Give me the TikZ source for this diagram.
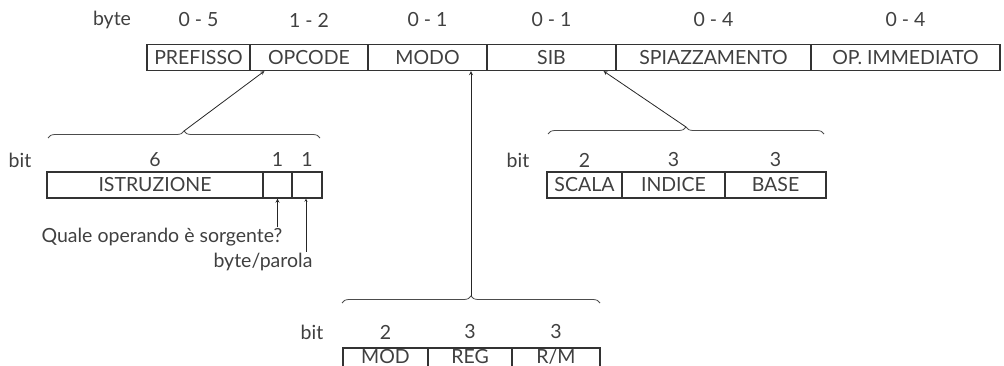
\documentclass[tikz,border=0pt]{standalone}
\usepackage{fontspec}
\setmainfont{Lato}
\usetikzlibrary{decorations.pathreplacing}
\newcommand{\fieldup}[1]{\raisebox{3pt}{#1}}
\begin{document}
\begin{tikzpicture}[x=1pt, y=-1pt, font=\fontsize{19.5}{22}\selectfont]
\tikzstyle{field} = [rectangle, minimum height=26pt, inner sep=0pt, text centered, draw=black!80, line width=1.2pt, text=black!75]
\tikzstyle{lowfield} = [field, minimum height=20pt]
\tikzstyle{lbl} = [inner sep=1pt, text=black!75]
\tikzstyle{brace} = [decorate, decoration={brace, amplitude=7pt}, draw=black!70, line width=0.8pt]
\tikzstyle{arrow} = [thick,->,>=stealth, draw=black!85]

\useasboundingbox (0,0) rectangle (1004,366);

\coordinate (byterow) at (0,20);
\coordinate (istrrow) at (0,160);
\coordinate (modrow) at (0,332);

\node (pre) [field, minimum width=103pt] at (198.5,57.5) {PREFISSO};
\node (opc) [field, minimum width=118pt] at (309,57.5) {OPCODE};
\node (modo) [field, minimum width=119pt] at (427.5,57.5) {MODO};
\node (sib) [field, minimum width=129pt] at (551.5,57.5) {SIB};
\node (spi) [field, minimum width=195pt] at (713.5,57.5) {SPIAZZAMENTO};
\node (imm) [field, minimum width=189pt] at (905.5,57.5) {OP. IMMEDIATO};

\node [lbl] at (112,20) {byte};
\node [lbl] at (pre |- byterow) {0 - 5};
\node [lbl] at (opc |- byterow) {1 - 2};
\node [lbl] at (modo |- byterow) {0 - 1};
\node [lbl] at (sib |- byterow) {0 - 1};
\node [lbl] at (spi |- byterow) {0 - 4};
\node [lbl] at (imm |- byterow) {0 - 4};

\node (istr) [field, minimum width=216pt] at (155,185) {ISTRUZIONE};
\node (dbit) [field, minimum width=29pt] at (277.5,185) {};
\node (wbit) [field, minimum width=30pt] at (307,185) {};

\node [lbl] at (20,160) {bit};
\node [lbl] at (istr |- istrrow) {6};
\node [lbl] at (dbit |- istrrow) {1};
\node [lbl] at (wbit |- istrrow) {1};

\node (scala) [field, minimum width=75pt] at (584.5,185) {SCALA};
\node (indice) [field, minimum width=103pt] at (673.5,185) {INDICE};
\node (base) [field, minimum width=101pt] at (775.5,185) {BASE};

\node [lbl] at (518,160) {bit};
\node [lbl] at (scala |- istrrow) {2};
\node [lbl] at (indice |- istrrow) {3};
\node [lbl] at (base |- istrrow) {3};

\node (mod) [lowfield, minimum width=85pt] at (385.5,358) {\fieldup{MOD}};
\node (reg) [lowfield, minimum width=84pt] at (470,358) {\fieldup{REG}};
\node (rm) [lowfield, minimum width=88pt] at (556,358) {\fieldup{R/M}};

\node [lbl] at (312,332) {bit};
\node [lbl] at (mod |- modrow) {2};
\node [lbl] at (reg |- modrow) {3};
\node [lbl] at (rm |- modrow) {3};

\node (quale) [lbl] at (162,237) {Quale operando è sorgente?};
\node (parola) [lbl] at (263,262) {byte/parola};

\draw [brace] (48,138) -- (320,138);
\draw [brace] (548,134) -- (824,134);
\draw [brace] (342,303) -- (600,303);
\coordinate (bopc) at (184,131);
\coordinate (bsib) at (686,127);
\coordinate (bmodo) at (471,296);

\draw [arrow] (bopc) -- ([xshift=15]opc.south west);
\draw [arrow] (bsib) -- ([xshift=-13]sib.south east);
\draw [arrow] (bmodo) -- (bmodo |- modo.south);

\draw [arrow] (dbit.south |- quale.north) -- (dbit.south);
\draw [arrow, thin] ([xshift=-1]wbit.south |- parola.north) -- ([xshift=-1]wbit.south);
\end{tikzpicture}
\end{document}
